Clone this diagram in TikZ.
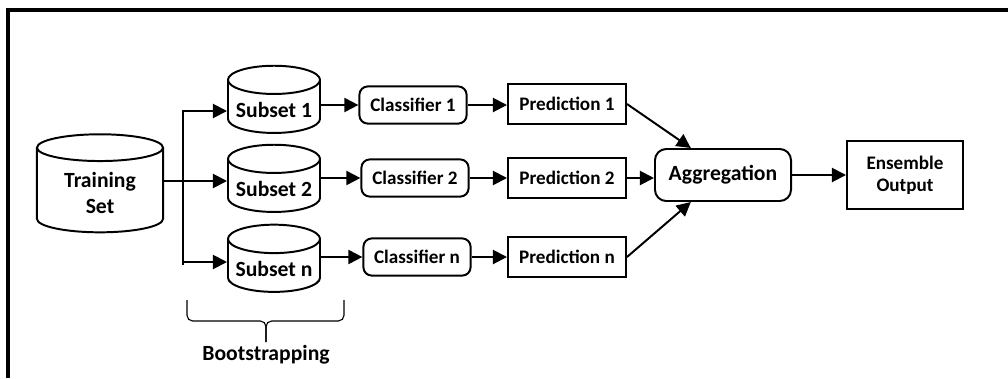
\documentclass[tikz,border=0pt]{standalone}
\usepackage{fontspec}
\setmainfont{Carlito}
\usetikzlibrary{shapes.geometric,arrows.meta,calc}

\begin{document}
\begin{tikzpicture}[x=0.025cm, y=-0.025cm,
    every node/.style={font=\fontsize{13.6}{15.6}\selectfont\bfseries},
    bigtext/.style={font=\fontsize{15.4}{18.5}\selectfont\bfseries},
    dbase/.style={cylinder, shape border rotate=90, shape aspect=0.33, draw, line width=1.4pt, align=center, bigtext},
    clsbox/.style={rectangle, rounded corners=6pt, draw, line width=1.4pt, minimum width=2.68cm, minimum height=0.93cm},
    predbox/.style={rectangle, draw, line width=1.4pt, minimum width=2.95cm, minimum height=1.0cm},
    link/.style={line width=1.4pt, -{Triangle[length=10pt,width=10pt]}}]
    \useasboundingbox (0,0) rectangle (1008,378);

    % Frame on top and left
    \draw[line width=2.2pt] (8,378) -- (8,10) -- (1008,10);

    % Training data and its bootstrap subsets
    \node[dbase, minimum width=3.15cm, minimum height=2.45cm] (train) at (100,193) {Training\\Set};
    \node[dbase, minimum width=2.3cm, minimum height=1.68cm] (sub1) at (274,110) {Subset 1};
    \node[dbase, minimum width=2.3cm, minimum height=1.68cm] (sub2) at (274,189) {Subset 2};
    \node[dbase, minimum width=2.3cm, minimum height=1.68cm] (subn) at (274,269) {Subset n};

    % Classifiers and predictions
    \node[clsbox] (cls1) at (413,105) {Classifier 1};
    \node[clsbox] (cls2) at (415,178) {Classifier 2};
    \node[clsbox] (clsn) at (417,257) {Classifier n};
    \node[predbox] (pred1) at (567,104) {Prediction 1};
    \node[predbox] (pred2) at (567,178) {Prediction 2};
    \node[predbox] (predn) at (567,257) {Prediction n};

    % Voting and result
    \node[rectangle, rounded corners=8pt, draw, line width=1.4pt, minimum width=3.4cm, minimum height=1.3cm, bigtext] (agg) at (723,175) {Aggregation};
    \node[rectangle, draw, line width=1.4pt, minimum width=2.9cm, minimum height=1.7cm, align=center] (out) at (905,175) {Ensemble\\Output};

    % Split of the training set
    \coordinate (split1) at (183,111);
    \coordinate (split2) at (183,181);
    \coordinate (splitn) at (183,262);
    \draw[line width=1.4pt] (train.east |- split2) -- (split2);
    \draw[line width=1.4pt] ($(split1)+(0,-1)$) -- ($(splitn)+(0,3)$);
    \draw[link] (split1) -- (split1 -| sub1.west);
    \draw[link] (split2) -- (split2 -| sub2.west);
    \draw[link] (splitn) -- (splitn -| subn.west);

    % Rows
    \draw[link] (cls1.west -| sub1.east) -- (cls1.west);
    \draw[link] (cls2.west -| sub2.east) -- (cls2.west);
    \draw[link] (clsn.west -| subn.east) -- (clsn.west);
    \draw[link] (cls1.east) -- (cls1.east -| pred1.west);
    \draw[link] (cls2.east) -- (cls2.east -| pred2.west);
    \draw[link] (clsn.east) -- (clsn.east -| predn.west);
    \draw[link] (pred1.east) -- (agg.140);
    \draw[link] (pred2.east) -- (pred2.east -| agg.west);
    \draw[link] (predn.east) -- (agg.220);
    \draw[link] (agg.east) -- (out.west);

    % Bootstrapping brace
    \draw[line width=0.8pt, rounded corners=4] (187,300) -- (187,321) -- (266,321) -- (266,342);
    \draw[line width=0.8pt, rounded corners=4] (344,300) -- (344,321) -- (266,321) -- (266,342);
    \node[bigtext] (boot) at (266,355) {Bootstrapping};
\end{tikzpicture}
\end{document}
